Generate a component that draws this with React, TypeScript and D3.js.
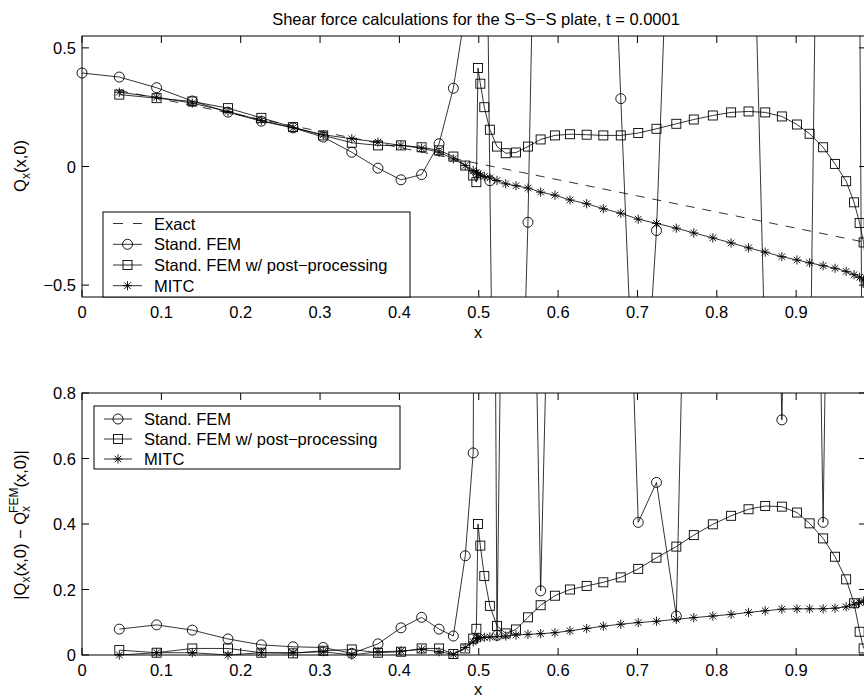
import React from 'react';
import * as d3 from 'd3';

// ---------------- DATA ----------------
const xTicks = [0, 0.1, 0.2, 0.3, 0.4, 0.5, 0.6, 0.7, 0.8, 0.9];
const topYTicks = [-0.5, 0, 0.5];
const botYTicks = [0, 0.2, 0.4, 0.6, 0.8];

// node positions (post-processing / MITC)
const nodeX = [0.047, 0.094, 0.139, 0.184, 0.226, 0.266, 0.304, 0.340, 0.373, 0.402, 0.428, 0.450, 0.468, 0.483, 0.493, 0.497, 0.499, 0.502, 0.507, 0.514, 0.523, 0.534, 0.547, 0.562, 0.578, 0.596, 0.615, 0.636, 0.657, 0.679, 0.701, 0.724, 0.749, 0.771, 0.795, 0.818, 0.840, 0.861, 0.882, 0.901, 0.917, 0.934, 0.949, 0.963, 0.973, 0.980, 0.985];

// top panel: Q_x(x,0)
const exactX = [0.047, 0.1, 0.2, 0.3, 0.4, 0.5, 0.6, 0.7, 0.8, 0.9, 0.985];
const exactQ = [0.32, 0.284, 0.216, 0.148, 0.08, 0.012, -0.056, -0.124, -0.192, -0.26, -0.318];

const femTopX = [0, 0.047, 0.094, 0.139, 0.184, 0.226, 0.266, 0.304, 0.340, 0.373, 0.402, 0.428, 0.450, 0.468, 0.483, 0.493, 0.497, 0.499, 0.502, 0.507, 0.514, 0.523, 0.534, 0.547, 0.562, 0.578, 0.596, 0.615, 0.636, 0.657, 0.679, 0.701, 0.724, 0.749, 0.771, 0.795, 0.818, 0.840, 0.861, 0.882, 0.901, 0.917, 0.934, 0.949, 0.963, 0.973, 0.980, 0.985];
const femTopQ = [0.394, 0.377, 0.332, 0.276, 0.229, 0.191, 0.163, 0.124, 0.06, -0.007, -0.056, -0.034, 0.096, 0.33, 0.65, 2.5, 3, 3, 3, 2, -0.06, -2.5, -3, -2, -0.235, 2.5, 3, 3, 3, 2.2, 0.286, -1.5, -0.27, 2, 2.5, 2.5, 2.5, 1.93, -0.83, -2, -2, -1.12, 3.31, 3, 3, 2, 0.8, -2];

const postTopX = [0.047, 0.094, 0.139, 0.184, 0.226, 0.266, 0.304, 0.340, 0.373, 0.402, 0.428, 0.450, 0.468, 0.483, 0.493, 0.497, 0.499, 0.502, 0.507, 0.514, 0.523, 0.534, 0.547, 0.562, 0.578, 0.596, 0.615, 0.636, 0.657, 0.679, 0.701, 0.724, 0.749, 0.771, 0.795, 0.818, 0.840, 0.861, 0.882, 0.901, 0.917, 0.934, 0.949, 0.963, 0.973, 0.980, 0.985, 0.990];
const postTopQ = [0.303, 0.288, 0.274, 0.246, 0.205, 0.166, 0.131, 0.100, 0.089, 0.089, 0.081, 0.068, 0.042, 0.004, -0.038, -0.066, 0.415, 0.349, 0.250, 0.155, 0.084, 0.056, 0.059, 0.084, 0.114, 0.131, 0.136, 0.134, 0.131, 0.131, 0.141, 0.159, 0.180, 0.198, 0.215, 0.228, 0.232, 0.228, 0.211, 0.177, 0.138, 0.081, 0.011, -0.062, -0.151, -0.238, -0.320, -0.490];

const mitcTopQ = [0.313, 0.292, 0.267, 0.232, 0.194, 0.163, 0.134, 0.117, 0.103, 0.089, 0.077, 0.060, 0.032, 0.004, -0.017, -0.026, -0.031, -0.036, -0.042, -0.048, -0.059, -0.073, -0.081, -0.091, -0.108, -0.121, -0.141, -0.157, -0.178, -0.197, -0.222, -0.240, -0.260, -0.280, -0.301, -0.322, -0.343, -0.361, -0.380, -0.394, -0.406, -0.418, -0.429, -0.442, -0.456, -0.467, -0.478];

// bottom panel: error
const femBotE = [0.079, 0.092, 0.076, 0.049, 0.031, 0.025, 0.023, 0.005, 0.034, 0.083, 0.115, 0.079, 0.058, 0.303, 0.617, 3, 4, 4, 3, 4, 0.06, 2.2, 3, 2.3, 0.196, 2.0, 3, 3, 3, 2, 0.405, 0.527, 0.119, 2.5, 3, 3, 3, 3, 0.718, 3, 3, 0.405, 3, 3, 3, 3, 3];

const postBotE = [0.015, 0.007, 0.020, 0.020, 0.007, 0.005, 0.013, 0.017, 0.007, 0.010, 0.020, 0.020, 0.003, 0.020, 0.050, 0.080, 0.400, 0.334, 0.241, 0.150, 0.089, 0.066, 0.078, 0.115, 0.152, 0.181, 0.200, 0.211, 0.222, 0.237, 0.263, 0.297, 0.331, 0.366, 0.399, 0.425, 0.445, 0.455, 0.453, 0.435, 0.402, 0.356, 0.300, 0.231, 0.158, 0.071, 0.02];

const mitcBotE = [0.0, 0.007, 0.007, 0.0, 0.007, 0.007, 0.010, 0.0, 0.010, 0.012, 0.017, 0.010, 0.002, 0.023, 0.040, 0.050, 0.052, 0.053, 0.054, 0.055, 0.056, 0.058, 0.061, 0.063, 0.065, 0.068, 0.074, 0.081, 0.088, 0.094, 0.099, 0.103, 0.109, 0.114, 0.119, 0.124, 0.130, 0.135, 0.140, 0.141, 0.141, 0.141, 0.143, 0.147, 0.155, 0.160, 0.165];

// ---------------- LAYOUT ----------------
const W = 864, H = 700;
const AX_L = 82, AX_R = 866;
const UNIT = 793.5;
const TOP = { t: 36, b: 297 };
const BOT = { t: 393, b: 655 };
const FONT = 'Liberation Sans, Arial, Helvetica, sans-serif';
const FS = 16.5;
const DASH = '9,8';

const xScale = d3.scaleLinear().domain([0, (AX_R - AX_L) / UNIT]).range([AX_L, AX_R]);
const yTop = d3.scaleLinear().domain([-0.55, 0.55]).range([TOP.b, TOP.t]);
const yBot = d3.scaleLinear().domain([0, 0.8]).range([BOT.b, BOT.t]);

type Marker = 'o' | 's' | '*' | 'none';

function markerEl(m: Marker, cx: number, cy: number, key: string | number) {
  if (m === 'o') return <circle key={key} cx={cx} cy={cy} r={5} fill="none" stroke="#000" strokeWidth={0.9} />;
  if (m === 's') return <rect key={key} x={cx - 4.5} y={cy - 4.5} width={9} height={9} fill="none" stroke="#000" strokeWidth={0.9} />;
  if (m === '*') {
    const s = 4.6, d = 3.3;
    return <path key={key} d={`M${cx - s},${cy}H${cx + s}M${cx},${cy - s}V${cy + s}M${cx - d},${cy - d}L${cx + d},${cy + d}M${cx - d},${cy + d}L${cx + d},${cy - d}`} stroke="#000" strokeWidth={0.9} fill="none" />;
  }
  return null;
}

function Series({ xs, ys, y, marker, dash, clipId }: { xs: number[]; ys: number[]; y: d3.ScaleLinear<number, number>; marker: Marker; dash?: string; clipId: string }) {
  const pts = xs.map((x, i) => [xScale(x), y(ys[i])] as [number, number]);
  const line = d3.line();
  const [d0, d1] = y.domain();
  return (
    <g>
      <path d={line(pts) || ''} fill="none" stroke="#000" strokeWidth={0.8} strokeDasharray={dash} clipPath={`url(#${clipId})`} />
      {marker !== 'none' && xs.map((x, i) => (ys[i] >= d0 && ys[i] <= d1 ? markerEl(marker, pts[i][0], pts[i][1], i) : null))}
    </g>
  );
}

function Axes({ top, bottom, y, yTicks, fmt }: { top: number; bottom: number; y: d3.ScaleLinear<number, number>; yTicks: number[]; fmt: (v: number) => string }) {
  const tl = 7;
  return (
    <g fontFamily={FONT} fontSize={FS}>
      <rect x={AX_L} y={top} width={AX_R - AX_L} height={bottom - top} fill="none" stroke="#000" strokeWidth={1} />
      {xTicks.map((t) => (
        <g key={'x' + t}>
          <line x1={xScale(t)} x2={xScale(t)} y1={bottom} y2={bottom - tl} stroke="#000" />
          <line x1={xScale(t)} x2={xScale(t)} y1={top} y2={top + tl} stroke="#000" />
          <text x={xScale(t)} y={bottom + 21} textAnchor="middle">{String(t)}</text>
        </g>
      ))}
      {yTicks.map((t) => (
        <g key={'y' + t}>
          <line x1={AX_L} x2={AX_L + tl} y1={y(t)} y2={y(t)} stroke="#000" />
          <line x1={AX_R} x2={AX_R - tl} y1={y(t)} y2={y(t)} stroke="#000" />
          <text x={AX_L - 6} y={y(t) + 6} textAnchor="end">{fmt(t)}</text>
        </g>
      ))}
    </g>
  );
}

const fmtY = (v: number) => (v < 0 ? '\u2212' + String(-v) : String(v));

function LegendRow({ x, y, label, marker, dash, len }: { x: number; y: number; label: string; marker: Marker; dash?: string; len: number }) {
  return (
    <g>
      <line x1={x} x2={x + len} y1={y} y2={y} stroke="#000" strokeWidth={0.8} strokeDasharray={dash} />
      {markerEl(marker, x + len / 2, y, 'm')}
      <text x={x + len + 12} y={y + 6} fontFamily={FONT} fontSize={FS}>{label}</text>
    </g>
  );
}

export default function App() {
  return (
    <svg width={W} height={H} style={{ display: 'block', position: 'absolute', left: 0, top: 0, background: '#fff' }}>
      <defs>
        <clipPath id="clipTop"><rect x={AX_L} y={TOP.t} width={AX_R - AX_L} height={TOP.b - TOP.t} /></clipPath>
        <clipPath id="clipBot"><rect x={AX_L} y={BOT.t} width={AX_R - AX_L} height={BOT.b - BOT.t} /></clipPath>
      </defs>
      <rect x={0} y={0} width={W} height={H} fill="#fff" />

      {/* title */}
      <text x={476} y={25} textAnchor="middle" fontFamily={FONT} fontSize={FS}>Shear force calculations for the S{'\u2212'}S{'\u2212'}S plate, t = 0.0001</text>

      {/* TOP PANEL */}
      <Series xs={exactX} ys={exactQ} y={yTop} marker="none" dash={DASH} clipId="clipTop" />
      <Series xs={femTopX} ys={femTopQ} y={yTop} marker="o" clipId="clipTop" />
      <Series xs={postTopX} ys={postTopQ} y={yTop} marker="s" clipId="clipTop" />
      <Series xs={nodeX} ys={mitcTopQ} y={yTop} marker="*" clipId="clipTop" />
      <Axes top={TOP.t} bottom={TOP.b} y={yTop} yTicks={topYTicks} fmt={fmtY} />
      <text x={478} y={338} textAnchor="middle" fontFamily={FONT} fontSize={FS}>x</text>
      <text transform="translate(26,166) rotate(-90)" textAnchor="middle" fontFamily={FONT} fontSize={FS}>
        Q<tspan fontSize={12} dy={4}>x</tspan><tspan dy={-4}>(x,0)</tspan>
      </text>
      <g>
        <rect x={103} y={212} width={307} height={85} fill="#fff" stroke="#000" strokeWidth={1} />
        <LegendRow x={113} y={223.5} label="Exact" marker="none" dash="10,10" len={29} />
        <LegendRow x={113} y={244.3} label="Stand. FEM" marker="o" len={29} />
        <LegendRow x={113} y={265} label={'Stand. FEM w/ post\u2212processing'} marker="s" len={29} />
        <LegendRow x={113} y={285.7} label="MITC" marker="*" len={29} />
      </g>

      {/* BOTTOM PANEL */}
      <Series xs={nodeX} ys={femBotE} y={yBot} marker="o" clipId="clipBot" />
      <Series xs={nodeX} ys={postBotE} y={yBot} marker="s" clipId="clipBot" />
      <Series xs={nodeX} ys={mitcBotE} y={yBot} marker="*" clipId="clipBot" />
      <Axes top={BOT.t} bottom={BOT.b} y={yBot} yTicks={botYTicks} fmt={fmtY} />
      <text x={478} y={695} textAnchor="middle" fontFamily={FONT} fontSize={FS}>x</text>
      <text transform="translate(26,525) rotate(-90)" textAnchor="middle" fontFamily={FONT} fontSize={FS}>
        |Q<tspan fontSize={12} dy={4}>x</tspan><tspan dy={-4}>(x,0) {'\u2212'} Q</tspan><tspan fontSize={12} dy={4}>x</tspan><tspan fontSize={12} dx={-7} dy={-12}>FEM</tspan><tspan dy={8}>(x,0)|</tspan>
      </text>
      <g>
        <rect x={94} y={406} width={306} height={63} fill="#fff" stroke="#000" strokeWidth={1} />
        <LegendRow x={104} y={419} label="Stand. FEM" marker="o" len={28} />
        <LegendRow x={104} y={439} label={'Stand. FEM w/ post\u2212processing'} marker="s" len={28} />
        <LegendRow x={104} y={459} label="MITC" marker="*" len={28} />
      </g>
    </svg>
  );
}
